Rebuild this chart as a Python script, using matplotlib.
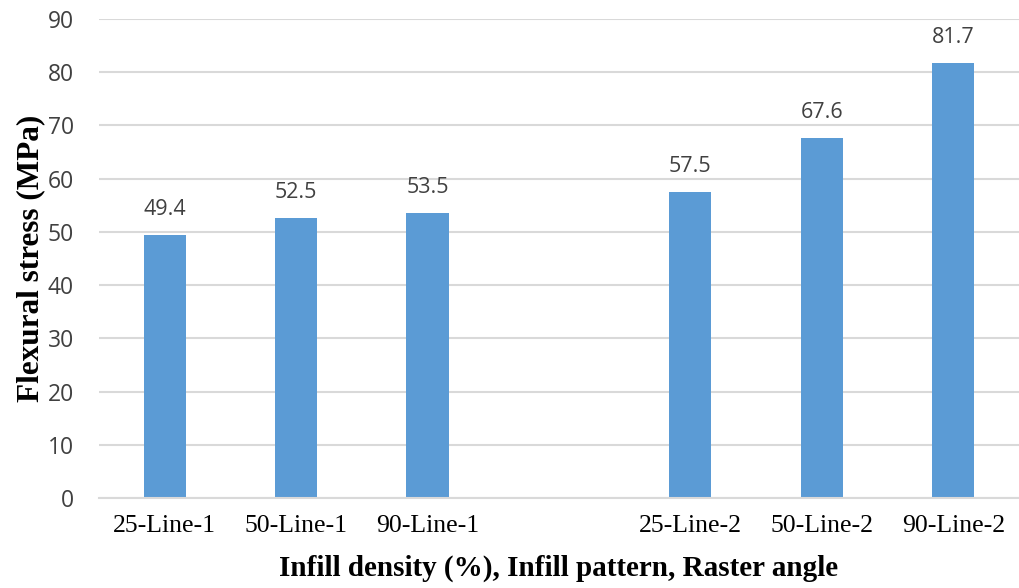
import matplotlib; matplotlib.use("Agg")
import matplotlib.pyplot as plt

# flexural stress per infill density / pattern / raster angle
labels = ["25-Line-1", "50-Line-1", "90-Line-1", "25-Line-2", "50-Line-2", "90-Line-2"]
stress = [49.4, 52.5, 53.5, 57.5, 67.6, 81.7]
slots = [0, 1, 2, 4, 5, 6]          # slot 3 left empty between the two groups
yticks = list(range(0, 91, 10))

BLUE = "#5b9bd5"
GRID = "#d9d9d9"
TXT = "#404040"

fig = plt.figure(figsize=(10.19, 5.88), dpi=100)
ax = fig.add_axes([0.097, 0.153, 0.903, 0.815])

ax.bar(slots, stress, width=0.32, color=BLUE, zorder=2)
for x, v in zip(slots, stress):
    ax.annotate(f"{v:.1f}", (x, v), xytext=(0, 11), textcoords="offset points",
                ha="center", va="bottom", fontsize=15.5, color=TXT,
                family="Open Sans")

ax.set_xlim(-0.5, 6.5)
ax.set_ylim(0, 90)
ax.set_yticks(yticks)
ax.set_yticklabels([str(t) for t in yticks], family="Open Sans", fontsize=16.5, color=TXT)
ax.set_xticks(slots)
ax.set_xticklabels(labels, family="Liberation Serif", fontsize=18.5, color="black")
ax.tick_params(length=0, pad=12)
ax.tick_params(axis="y", pad=18)
ax.yaxis.grid(True, color=GRID, lw=1.5, zorder=0)
ax.set_axisbelow(True)
for s in ("top", "right", "left"):
    ax.spines[s].set_visible(False)
ax.spines["bottom"].set_color(GRID)
ax.spines["bottom"].set_linewidth(1.5)

ax.set_xlabel("Infill density (%), Infill pattern, Raster angle", family="Liberation Serif",
              fontsize=21, fontweight="bold", labelpad=13)
ax.set_ylabel("Flexural stress (MPa)", family="Liberation Serif",
              fontsize=22.5, fontweight="bold", labelpad=2)

fig.savefig("out.png", dpi=100)
